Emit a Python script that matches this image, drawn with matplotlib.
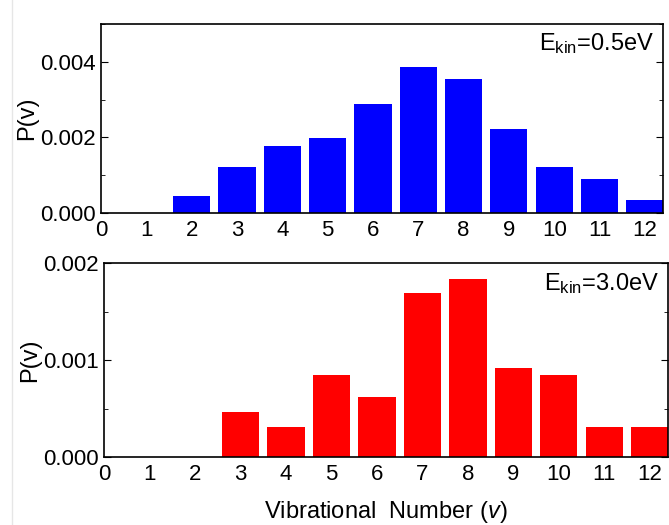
import matplotlib
matplotlib.use("Agg")
import matplotlib.pyplot as plt
from matplotlib.ticker import MultipleLocator

plt.rcParams['font.family'] = ['Liberation Sans', 'DejaVu Sans']
plt.rcParams['mathtext.fontset'] = 'custom'
plt.rcParams['mathtext.rm'] = 'Liberation Sans'
plt.rcParams['mathtext.it'] = 'Liberation Sans:italic'

v = [0, 1, 2, 3, 4, 5, 6, 7, 8, 9, 10, 11, 12]
p_05 = [0, 0, 0.00045, 0.00122, 0.00177, 0.00199, 0.00288, 0.00386,
        0.00354, 0.00222, 0.00122, 0.00089, 0.00034]
p_30 = [0, 0, 0, 0.00046, 0.00031, 0.00085, 0.00062, 0.00169,
        0.00184, 0.00092, 0.00085, 0.00031, 0.00031]

fig = plt.figure(figsize=(6.69, 5.25), dpi=100)
ax1 = fig.add_axes([101/669, 1 - 213/525, 562/669, 189/525])
ax2 = fig.add_axes([104/669, 1 - 457/525, 564/669, 194/525])


def style(ax, ymax, major, label):
    ax.set_xlim(0, 12.4)
    ax.set_ylim(0, ymax)
    ax.set_xticks(v)
    ax.yaxis.set_major_locator(MultipleLocator(major))
    ax.yaxis.set_minor_locator(MultipleLocator(major / 2))
    ax.tick_params(axis='x', length=0, labelsize=16, pad=5)
    ax.tick_params(axis='y', which='both', direction='in', left=True, right=True, labelsize=16, pad=4)
    ax.tick_params(axis='y', which='major', length=5)
    ax.tick_params(axis='y', which='minor', length=3)
    ax.yaxis.set_major_formatter(plt.FormatStrFormatter('%.3f'))
    ax.set_ylabel('P(v)', fontsize=17, labelpad=1)
    for s in ax.spines.values():
        s.set_linewidth(1.2)
    ax.text(0.985, 0.96, label, transform=ax.transAxes, ha='right', va='top', fontsize=17)


ax1.bar(v, p_05, width=0.82, color='#0000ff')
style(ax1, 0.005, 0.002, r'E$_{\mathrm{kin}}$=0.5eV')

ax2.bar(v, p_30, width=0.82, color='#ff0000')
style(ax2, 0.002, 0.001, r'E$_{\mathrm{kin}}$=3.0eV')
ax2.set_xlabel(r'Vibrational  Number ($v$)', fontsize=17, labelpad=10)

fig.add_artist(plt.Line2D([12/669, 12/669], [0, 1], color='#e6e6e6', lw=1))

fig.savefig('out.png', dpi=100)
